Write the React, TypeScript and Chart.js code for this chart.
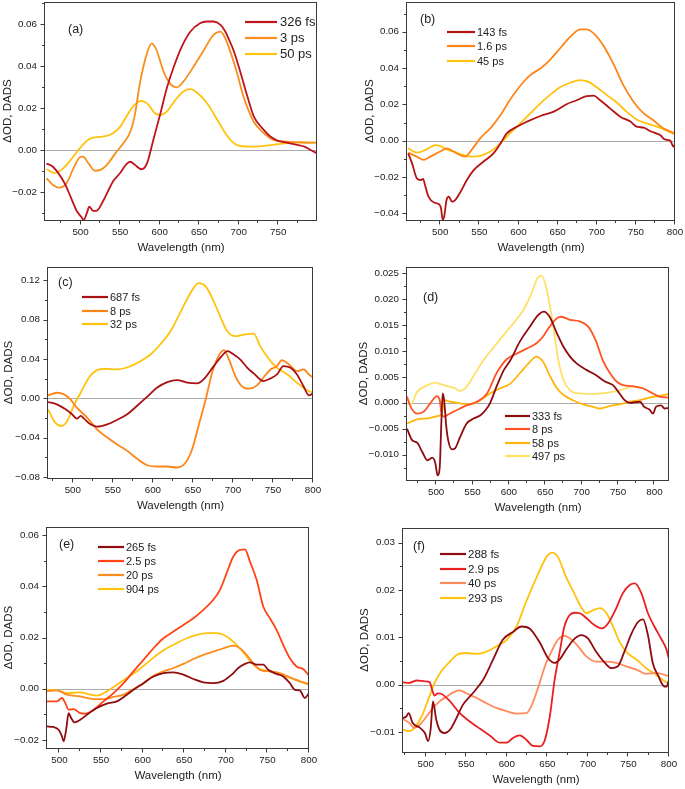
import React, { useEffect, useRef } from "react";
import { Chart, registerables } from "chart.js";
Chart.register(...registerables);

const FONT = "'Liberation Sans', Arial, Helvetica, sans-serif";
const AXIS = "#3a3a3a";
const TEXT = "#222222";

// ---------- Panel (a) ----------
const aWl326 = [457,465,480,487,495,501,504,508,511,516,520,529,541,550,558,563,569,577,584,592,601,609,618,628,639,651,660,668,677,683,687,694,700,711,719,732,740,749,761,774,783,791,799];
const aOD326 = [-0.0065,-0.008,-0.016,-0.022,-0.029,-0.032,-0.0334,-0.030,-0.027,-0.029,-0.029,-0.024,-0.015,-0.011,-0.0067,-0.0056,-0.0072,-0.0092,-0.0064,0.0048,0.0175,0.0294,0.0398,0.0493,0.0565,0.0605,0.0613,0.0613,0.0597,0.0565,0.0533,0.047,0.0398,0.0255,0.016,0.0095,0.0064,0.0045,0.0035,0.0024,0.0016,0.0,-0.0016];
const aWl3 = [457,465,473,482,491,499,503,510,518,525,533,544,554,563,569,575,584,590,596,605,613,622,630,643,656,668,677,683,690,698,706,719,732,744,761,778,799];
const aOD3 = [-0.0135,-0.0167,-0.018,-0.016,-0.0088,-0.0035,-0.0032,-0.0064,-0.0099,-0.0095,-0.0072,-0.0016,0.0032,0.0088,0.0175,0.0318,0.0462,0.0509,0.0477,0.0374,0.0318,0.0299,0.0326,0.0398,0.0477,0.0549,0.0565,0.0533,0.0462,0.0366,0.0255,0.0135,0.008,0.0048,0.004,0.0037,0.0035];
const aWl50 = [457,467,478,489,499,510,518,533,541,550,558,567,577,586,594,601,609,620,630,639,647,660,673,686,694,702,719,736,753,770,787,799];
const aOD50 = [-0.0092,-0.011,-0.0088,-0.004,0.0008,0.005,0.006,0.0067,0.008,0.011,0.016,0.021,0.0234,0.0215,0.0175,0.0167,0.0183,0.0239,0.0279,0.029,0.0274,0.0223,0.0143,0.0064,0.0032,0.0019,0.0016,0.0021,0.0029,0.0035,0.0035,0.0035];

// ---------- Panel (b) ----------
const bWl143 = [459,464,470,475,478,481,485,492,498,501,503,505,508,511,515,519,526,534,543,555,568,577,585,598,611,628,645,662,675,687,696,704,717,730,743,751,760,768,781,787,794,798,800];
const bOD143 = [-0.007,-0.0125,-0.0207,-0.0217,-0.021,-0.0253,-0.0308,-0.0341,-0.0349,-0.0372,-0.0435,-0.0418,-0.0327,-0.0308,-0.0336,-0.0327,-0.0281,-0.0217,-0.0161,-0.0116,-0.007,-0.0015,0.004,0.0077,0.0105,0.0136,0.016,0.0202,0.0224,0.0246,0.0248,0.0224,0.0178,0.0132,0.0105,0.0077,0.0072,0.0053,0.0031,0.0007,0.0,-0.0033,-0.0018];
const bWl16 = [459,470,479,487,500,508,517,525,532,540,551,564,577,589,602,615,628,640,653,666,679,687,696,708,721,734,747,760,772,785,798,800];
const bOD16 = [-0.0066,-0.0088,-0.0106,-0.0088,-0.006,-0.0042,-0.006,-0.0079,-0.0088,-0.0051,0.0013,0.0068,0.0141,0.0224,0.0301,0.0361,0.0398,0.0444,0.0508,0.0572,0.0613,0.0613,0.0591,0.0527,0.0426,0.0306,0.0215,0.015,0.0114,0.0068,0.0044,0.0037];
const bWl45 = [459,470,481,494,500,508,517,530,540,551,564,577,589,602,615,628,640,653,666,679,689,700,713,726,738,751,764,777,789,800];
const bOD45 = [-0.0042,-0.0066,-0.0051,-0.0024,-0.0029,-0.0048,-0.006,-0.0079,-0.0088,-0.0084,-0.006,-0.0015,0.004,0.0095,0.015,0.0206,0.0251,0.0294,0.0319,0.0334,0.0325,0.0294,0.0251,0.0209,0.016,0.0117,0.0095,0.0077,0.0055,0.0035];

// ---------- Panel (c) ----------
const cWl687 = [469,480,491,499,505,510,514,522,530,543,555,568,580,593,605,618,630,643,655,664,676,686,693,701,709,718,726,738,747,755,763,772,780,788,795,800];
const cOD687 = [-0.0037,-0.0061,-0.0112,-0.0162,-0.0206,-0.0179,-0.0206,-0.0264,-0.0287,-0.0264,-0.022,-0.0162,-0.0078,0.0017,0.0108,0.0166,0.0186,0.0159,0.0152,0.0199,0.0328,0.0429,0.048,0.0446,0.0396,0.0311,0.0254,0.0176,0.0203,0.0243,0.0328,0.0311,0.0243,0.0125,0.003,0.0051];
const cWl8 = [469,480,489,497,505,518,530,543,555,568,580,593,605,618,630,641,649,657,666,674,682,689,695,703,711,720,730,738,747,755,761,770,780,788,795,800];
const cOD8 = [0.003,0.0057,0.0041,-0.001,-0.0095,-0.0196,-0.0314,-0.0399,-0.0467,-0.0534,-0.0612,-0.068,-0.0693,-0.0693,-0.0703,-0.0652,-0.0517,-0.0281,-0.001,0.026,0.0429,0.049,0.0396,0.0227,0.0125,0.0098,0.0132,0.021,0.0294,0.0328,0.0389,0.0345,0.0277,0.0294,0.0243,0.021];
const cWl32 = [469,478,486,493,501,512,520,528,539,555,572,585,597,609,622,634,647,657,666,676,684,693,703,714,726,734,747,755,768,780,791,800];
const cOD32 = [-0.0112,-0.0247,-0.0281,-0.023,-0.0078,0.0091,0.021,0.0277,0.0301,0.0294,0.0328,0.0379,0.0446,0.0548,0.0683,0.0869,0.1072,0.1173,0.1139,0.0987,0.0835,0.0683,0.0632,0.0649,0.0659,0.0531,0.0379,0.0311,0.0243,0.0159,0.0091,0.0057];

// ---------- Panel (d) ----------
const dWl333 = [460,467,474,481,488,495,499,502,505,507,509,511,514,517,522,526,533,542,552,561,568,574,583,593,602,615,629,640,648,656,666,675,684,693,707,720,732,743,752,759,766,780,786,793,798,802,809,814,820];
const dOD333 = [-0.005,-0.0072,-0.0077,-0.0095,-0.0111,-0.0106,-0.0117,-0.014,-0.0124,-0.0046,0.0018,0.0005,-0.0046,-0.0075,-0.009,-0.0088,-0.0066,-0.004,-0.003,-0.0024,-0.0014,-0.0001,0.0031,0.0063,0.0082,0.0118,0.0147,0.0169,0.0176,0.0166,0.0134,0.0108,0.0089,0.0076,0.0063,0.0053,0.0041,0.0034,0.0018,0.0005,0.0,0.0002,-0.0008,-0.0013,-0.0021,-0.0008,-0.0005,-0.0011,-0.001];
const dWl8 = [460,465,474,483,492,501,505,507,511,515,524,533,542,556,570,583,597,611,625,638,647,656,666,672,684,697,709,720,729,739,748,757,770,784,798,807,820];
const dOD8 = [0.0012,-0.0008,-0.0021,-0.0017,-0.0001,0.0013,0.0005,-0.0017,-0.0027,-0.0024,-0.0017,-0.0011,-0.0005,0.0002,0.0018,0.0057,0.0084,0.0095,0.0105,0.0115,0.0128,0.0147,0.0163,0.0166,0.016,0.0157,0.0147,0.0118,0.0082,0.0057,0.0041,0.0034,0.0032,0.0028,0.0018,0.0012,0.001];
const dWl58 = [460,474,488,501,508,511,520,533,547,561,574,588,602,615,629,638,647,656,666,675,688,702,716,725,739,752,766,780,793,807,820];
const dOD58 = [-0.004,-0.0032,-0.003,-0.0026,-0.0021,0.0005,0.0002,-0.0001,-0.0003,0.0005,0.0018,0.0028,0.0037,0.0057,0.0079,0.0089,0.0079,0.0053,0.0028,0.0015,0.0005,-0.0003,-0.0008,-0.0011,-0.0006,-0.0003,0.0002,0.0005,0.001,0.0013,0.0017];
const dWl497 = [460,465,474,488,499,506,515,526,533,542,552,565,579,593,606,620,631,640,645,652,661,668,675,684,697,716,734,752,770,784,798,807,820];
const dOD497 = [0.0008,-0.0003,0.0021,0.0034,0.0039,0.0036,0.0032,0.0028,0.0023,0.0031,0.0053,0.0082,0.0107,0.0131,0.0153,0.0179,0.0211,0.0242,0.0245,0.0218,0.0147,0.0082,0.0044,0.0024,0.0018,0.0017,0.0019,0.0024,0.0031,0.0028,0.0018,0.0012,0.0017];

// ---------- Panel (e) ----------
const eWl265 = [485,493,499,503,505,508,511,514,518,525,533,545,557,569,581,589,601,613,625,637,649,661,673,685,697,707,715,723,729,737,745,751,761,769,777,783,789,795,800];
const eOD265 = [-0.0147,-0.0149,-0.016,-0.0186,-0.0205,-0.016,-0.0095,-0.0114,-0.0131,-0.0121,-0.0101,-0.0075,-0.0058,-0.0049,-0.0023,-0.0004,0.0022,0.0048,0.0061,0.0064,0.0055,0.0038,0.0025,0.0022,0.0031,0.0055,0.0081,0.0097,0.0103,0.0094,0.0094,0.0074,0.0058,0.0048,0.0022,-0.0004,-0.0006,-0.0036,-0.0017];
const eWl25 = [485,497,503,507,511,517,525,531,541,553,565,577,589,601,613,625,637,649,661,673,685,693,701,709,717,723,729,737,745,753,761,769,777,785,793,800];
const eOD25 = [-0.0049,-0.0049,-0.0036,-0.0056,-0.0082,-0.0079,-0.0095,-0.0097,-0.0082,-0.0049,-0.0017,0.0022,0.0068,0.0113,0.0158,0.0197,0.0223,0.0249,0.0275,0.0308,0.0347,0.0386,0.0451,0.0516,0.0542,0.0544,0.0496,0.0425,0.0321,0.0275,0.023,0.0171,0.0119,0.0087,0.0077,0.0051];
const eWl20 = [485,497,509,525,541,553,565,577,589,601,613,625,637,649,661,673,685,697,709,717,725,733,741,753,765,777,789,800];
const eOD20 = [-0.001,-0.0006,-0.0023,-0.003,-0.004,-0.004,-0.0032,-0.0023,-0.0001,0.0022,0.0051,0.0068,0.0081,0.0097,0.0116,0.0132,0.0145,0.0158,0.0168,0.0158,0.0132,0.01,0.0074,0.0068,0.0061,0.0045,0.0029,0.0019];
const eWl904 = [485,497,509,525,537,545,557,569,581,593,605,617,629,641,653,665,677,689,701,713,725,733,741,753,765,777,789,800];
const eOD904 = [-0.0004,-0.0006,-0.0017,-0.0014,-0.0023,-0.0027,-0.001,0.0016,0.0042,0.0068,0.01,0.0132,0.0158,0.0178,0.0197,0.021,0.0217,0.0217,0.0204,0.0171,0.0126,0.0094,0.0077,0.0068,0.0058,0.0042,0.0029,0.0016];

// ---------- Panel (f) ----------
const fWl288 = [472,476,479,484,493,499,503,506,509,513,517,523,530,538,546,558,571,583,595,608,618,628,641,651,659,665,673,684,692,700,710,721,729,737,745,754,762,768,774,780,787,793,797,800];
const fOD288 = [-0.007,-0.0067,-0.006,-0.0081,-0.0091,-0.0102,-0.0119,-0.0095,-0.0035,-0.0074,-0.0095,-0.0102,-0.0095,-0.007,-0.0042,-0.0018,0.0011,0.0053,0.0095,0.0112,0.0123,0.0119,0.0088,0.0056,0.0046,0.0053,0.0074,0.0098,0.0105,0.0098,0.007,0.0046,0.0035,0.0039,0.007,0.0109,0.0133,0.0138,0.0105,0.0046,0.0018,-0.0002,-0.0004,0.0011];
const fWl29 = [472,480,489,499,505,508,511,515,519,530,542,554,567,579,591,600,608,616,624,632,641,647,653,659,665,671,678,684,690,698,708,717,725,735,743,752,758,766,774,782,791,797,800];
const fOD29 = [0.0005,0.0004,0.0009,0.0007,0.0005,-0.0011,-0.0023,-0.0018,-0.0019,-0.0035,-0.006,-0.0077,-0.0093,-0.0107,-0.0122,-0.0122,-0.0112,-0.0107,-0.0116,-0.0129,-0.013,-0.0116,-0.0067,0.0011,0.0067,0.0123,0.0148,0.0152,0.0151,0.0141,0.0126,0.0119,0.013,0.0162,0.0193,0.0211,0.0214,0.0193,0.0151,0.0123,0.0095,0.0074,0.0053];
const fWl40 = [472,480,486,493,501,509,517,526,534,542,550,563,575,587,600,612,624,630,639,647,655,663,671,680,688,698,710,723,735,747,760,772,784,800];
const fOD40 = [-0.0072,-0.0081,-0.0091,-0.0084,-0.0067,-0.0049,-0.0035,-0.0025,-0.0016,-0.0012,-0.0018,-0.0028,-0.0039,-0.0049,-0.0056,-0.0061,-0.006,-0.0046,-0.0004,0.0039,0.007,0.0095,0.0103,0.0095,0.0081,0.006,0.0049,0.0049,0.0046,0.0039,0.0032,0.0023,0.0025,0.0018];
const fWl293 = [472,480,486,495,503,511,519,530,538,550,563,575,587,600,612,624,637,649,656,663,673,682,690,698,706,715,723,731,739,747,760,772,784,795,800];
const fOD293 = [-0.0095,-0.0098,-0.0091,-0.0067,-0.0032,0.0004,0.0028,0.0049,0.0063,0.0067,0.0065,0.007,0.0081,0.0095,0.0123,0.0176,0.0228,0.027,0.0279,0.027,0.0228,0.0197,0.0169,0.0151,0.0157,0.0162,0.0151,0.0123,0.0091,0.007,0.0053,0.0035,0.0021,0.0007,0.0002];

type Series = { label: string; x: number[]; y: number[]; color: string };
type PanelCfg = {
  tag: string;
  series: Series[];
  box: [number, number, number, number];
  xMin: number; xMax: number;
  yMin: number; yMax: number; yStep: number; dec: number;
  yTitleOff: number;
  legLine: [number, number]; legText: number; legRows: number[]; legSize: number;
  tagPos: [number, number];
};

const DR = "#8e0c10";
const panels: PanelCfg[] = [
  {
    tag: "(a)",
    series: [
      { label: "326 fs", x: aWl326, y: aOD326, color: "#c0141c" },
      { label: "3 ps", x: aWl3, y: aOD3, color: "#f7901e" },
      { label: "50 ps", x: aWl50, y: aOD50, color: "#ffc20e" },
    ],
    box: [45, 2, 317, 220], xMin: 455, xMax: 799, yMin: -0.0334, yMax: 0.0706, yStep: 0.02, dec: 2,
    yTitleOff: 36.7, legLine: [245, 277], legText: 280, legRows: [22, 38, 54], legSize: 13, tagPos: [68, 30],
  },
  {
    tag: "(b)",
    series: [
      { label: "143 fs", x: bWl143, y: bOD143, color: "#b41414" },
      { label: "1.6 ps", x: bWl16, y: bOD16, color: "#ff8518" },
      { label: "45 ps", x: bWl45, y: bOD45, color: "#ffc20e" },
    ],
    box: [407, 2, 675, 220], xMin: 457.5, xMax: 800, yMin: -0.0437, yMax: 0.0764, yStep: 0.02, dec: 2,
    yTitleOff: 37.4, legLine: [447, 475], legText: 477, legRows: [32, 46, 61], legSize: 11, tagPos: [420, 20],
  },
  {
    tag: "(c)",
    series: [
      { label: "687 fs", x: cWl687, y: cOD687, color: "#a81014" },
      { label: "8 ps", x: cWl8, y: cOD8, color: "#ff8518" },
      { label: "32 ps", x: cWl32, y: cOD32, color: "#ffc20e" },
    ],
    box: [48, 267, 313, 478], xMin: 469, xMax: 800, yMin: -0.081, yMax: 0.1336, yStep: 0.04, dec: 2,
    yTitleOff: 39.4, legLine: [82, 108], legText: 110, legRows: [297, 311, 324], legSize: 11, tagPos: [58, 283],
  },
  {
    tag: "(d)",
    series: [
      { label: "333 fs", x: dWl333, y: dOD333, color: DR },
      { label: "8 ps", x: dWl8, y: dOD8, color: "#ff5424" },
      { label: "58 ps", x: dWl58, y: dOD58, color: "#ffb60a" },
      { label: "497 ps", x: dWl497, y: dOD497, color: "#ffe066" },
    ],
    box: [407, 267, 669, 480], xMin: 460, xMax: 820, yMin: -0.0149, yMax: 0.0262, yStep: 0.005, dec: 3,
    yTitleOff: 43.4, legLine: [505, 530], legText: 532, legRows: [416, 429, 443, 456], legSize: 11, tagPos: [423, 298],
  },
  {
    tag: "(e)",
    series: [
      { label: "265 fs", x: eWl265, y: eOD265, color: DR },
      { label: "2.5 ps", x: eWl25, y: eOD25, color: "#ff4414" },
      { label: "20 ps", x: eWl20, y: eOD20, color: "#ff8c1e" },
      { label: "904 ps", x: eWl904, y: eOD904, color: "#ffc20e" },
    ],
    box: [47, 527, 309, 748], xMin: 485, xMax: 800, yMin: -0.0231, yMax: 0.0631, yStep: 0.02, dec: 2,
    yTitleOff: 38.4, legLine: [98, 124], legText: 126, legRows: [547, 561, 575, 589], legSize: 11, tagPos: [59, 545],
  },
  {
    tag: "(f)",
    series: [
      { label: "288 fs", x: fWl288, y: fOD288, color: DR },
      { label: "2.9 ps", x: fWl29, y: fOD29, color: "#e82020" },
      { label: "40 ps", x: fWl40, y: fOD40, color: "#ff8a5c" },
      { label: "293 ps", x: fWl293, y: fOD293, color: "#ffc20e" },
    ],
    box: [403, 528, 669, 752], xMin: 472, xMax: 800, yMin: -0.0142, yMax: 0.0331, yStep: 0.01, dec: 2,
    yTitleOff: 38.3, legLine: [440, 466], legText: 468, legRows: [554, 569, 583, 598], legSize: 11.5, tagPos: [413, 547],
  },
];

function geom(p: PanelCfg) {
  const [pl, pt, pr, pb] = p.box;
  const W = p.yTitleOff + 6.9;
  const left = Math.max(0, Math.round(pl - W));
  const top = Math.max(0, Math.floor(pt - 4));
  const width = Math.ceil(pr + 14 - left);
  const height = Math.ceil(pb + 39 - top);
  return {
    left, top, width, height,
    yW: pl - left, padT: pt - top, padR: width - (pr - left), xH: height - (pb - top),
  };
}

function fmtY(v: number, dec: number) {
  const n = Math.abs(v) < 1e-9 ? 0 : v;
  const s = Math.abs(n).toFixed(dec);
  return n < 0 ? "\u2212" + s : s;
}

function Panel({ p }: { p: PanelCfg }) {
  const ref = useRef<HTMLCanvasElement>(null);
  const g = geom(p);
  useEffect(() => {
    const canvas = ref.current;
    if (!canvas) return;
    const deco = {
      id: "deco",
      beforeDatasetsDraw(chart: any) {
        const { ctx, chartArea: a } = chart;
        const y0 = Math.round(chart.scales.y.getPixelForValue(0)) + 0.5;
        ctx.save();
        ctx.strokeStyle = "#ababab";
        ctx.lineWidth = 1;
        ctx.beginPath();
        ctx.moveTo(a.left, y0);
        ctx.lineTo(a.right, y0);
        ctx.stroke();
        ctx.restore();
      },
      afterDraw(chart: any) {
        const { ctx, chartArea: a } = chart;
        const xs = chart.scales.x;
        const ys = chart.scales.y;
        ctx.save();
        ctx.strokeStyle = AXIS;
        ctx.lineWidth = 1;
        const L = Math.round(a.left) - 0.5;
        const R = Math.round(a.right) - 0.5;
        const T = Math.round(a.top) + 0.5;
        const B = Math.round(a.bottom) + 0.5;
        ctx.strokeRect(L, T, R - L, B - T);
        ctx.beginPath();
        for (let k = Math.ceil(xs.min / 25 - 1e-9); k * 25 <= xs.max + 1e-9; k++) {
          const major = k % 2 === 0;
          const px = Math.round(xs.getPixelForValue(k * 25)) - 0.5;
          ctx.moveTo(px, B);
          ctx.lineTo(px, B + (major ? 4 : 2.5));
        }
        const ym = p.yStep / 2;
        for (let k = Math.ceil(ys.min / ym - 1e-6); k * ym <= ys.max + 1e-12; k++) {
          const major = k % 2 === 0;
          const py = Math.round(ys.getPixelForValue(k * ym)) + 0.5;
          ctx.moveTo(L, py);
          ctx.lineTo(L - (major ? 4 : 2.5), py);
        }
        ctx.stroke();
        // legend
        ctx.textBaseline = "middle";
        ctx.textAlign = "left";
        p.series.forEach((s, i) => {
          const ry = p.legRows[i] - g.top;
          ctx.strokeStyle = s.color;
          ctx.lineWidth = 2.2;
          ctx.beginPath();
          ctx.moveTo(p.legLine[0] - g.left, ry);
          ctx.lineTo(p.legLine[1] - g.left, ry);
          ctx.stroke();
          ctx.fillStyle = TEXT;
          ctx.font = `${p.legSize}px ${FONT}`;
          ctx.fillText(s.label, p.legText - g.left, ry + 0.5);
        });
        ctx.font = `12.5px ${FONT}`;
        ctx.fillStyle = TEXT;
        ctx.fillText(p.tag, p.tagPos[0] - g.left, p.tagPos[1] - g.top);
        ctx.restore();
      },
    };
    const chart = new Chart(canvas, {
      type: "line",
      data: {
        datasets: p.series.map((s) => ({
          label: s.label,
          data: s.x.map((x, i) => ({ x, y: s.y[i] })),
          borderColor: s.color,
          backgroundColor: s.color,
          borderWidth: 1.8,
          pointRadius: 0,
          cubicInterpolationMode: "monotone" as const,
          fill: false,
        })),
      },
      options: {
        responsive: false,
        animation: false,
        events: [],
        layout: { padding: { left: 0, top: g.padT, right: g.padR, bottom: 0 } },
        plugins: { legend: { display: false }, tooltip: { enabled: false } },
        scales: {
          x: {
            type: "linear",
            min: p.xMin,
            max: p.xMax,
            afterFit: (s: any) => {
              s.height = g.xH;
              s.paddingLeft = 0; s.paddingRight = 0; s.paddingTop = 0; s.paddingBottom = 0;
            },
            ticks: {
              stepSize: 50,
              includeBounds: false,
              autoSkip: false,
              maxRotation: 0,
              padding: 2,
              color: TEXT,
              font: { family: FONT, size: 9.8 },
              callback: (v: any) => String(Math.round(Number(v))),
            },
            grid: { display: true, drawOnChartArea: false, drawTicks: true, tickLength: 4, color: "rgba(0,0,0,0)" },
            border: { display: false },
            title: {
              display: true,
              text: "Wavelength (nm)",
              color: TEXT,
              font: { family: FONT, size: 11.5 },
              padding: { top: 0, bottom: 4 },
            },
          },
          y: {
            type: "linear",
            min: p.yMin,
            max: p.yMax,
            afterFit: (s: any) => {
              s.width = g.yW;
              s.paddingLeft = 0; s.paddingRight = 0; s.paddingTop = 0; s.paddingBottom = 0;
            },
            ticks: {
              stepSize: p.yStep,
              includeBounds: false,
              autoSkip: false,
              padding: 4,
              color: TEXT,
              font: { family: FONT, size: 9.8 },
              callback: (v: any) => fmtY(Number(v), p.dec),
            },
            grid: { display: true, drawOnChartArea: false, drawTicks: true, tickLength: 4, color: "rgba(0,0,0,0)" },
            border: { display: false },
            title: {
              display: true,
              text: "\u0394OD, DADS",
              color: TEXT,
              font: { family: FONT, size: 11.5 },
              padding: { top: 0, bottom: 0 },
            },
          },
        },
      },
      plugins: [deco],
    } as any);
    return () => chart.destroy();
  }, []);
  return (
    <canvas
      ref={ref}
      width={g.width}
      height={g.height}
      style={{ position: "absolute", left: g.left, top: g.top, width: g.width, height: g.height }}
    />
  );
}

export default function App() {
  return (
    <div style={{ position: "absolute", left: 0, top: 0, width: 685, height: 789, background: "#ffffff", overflow: "hidden" }}>
      {panels.map((p) => (
        <Panel key={p.tag} p={p} />
      ))}
    </div>
  );
}
